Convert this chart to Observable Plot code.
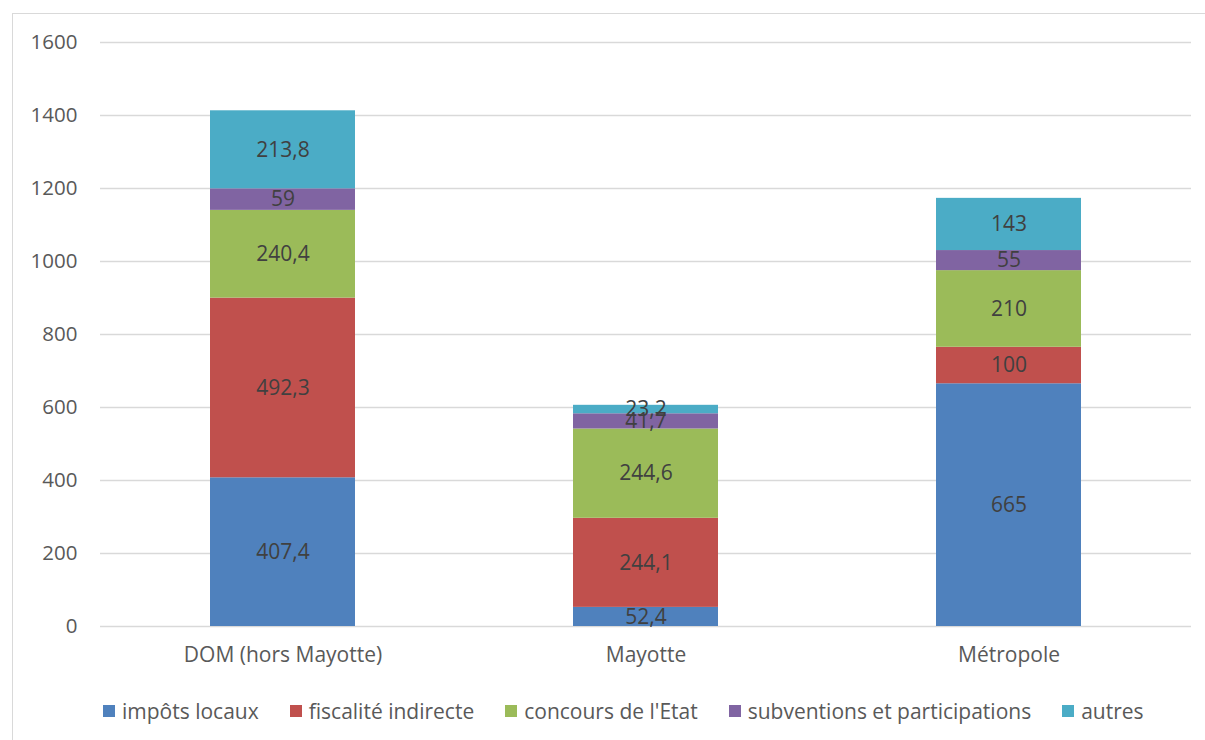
<!DOCTYPE html>
<html>
<head>
<meta charset="utf-8">
<script src="https://cdn.jsdelivr.net/npm/d3@7"></script>
<script src="https://cdn.jsdelivr.net/npm/@observablehq/plot@0.6"></script>
<style>
  body { margin: 0; background: #fff; font-family: "Open Sans", Lato, sans-serif; }
  #frame { position: absolute; left: 12px; top: 13px; width: 1210px; height: 740px; border: 1px solid #d9d9d9; box-sizing: border-box; }
  #chart { position: absolute; left: 0; top: 0; }
  #legend { position: absolute; left: 103px; top: 697px; display: flex; align-items: center; font-size: 21px; color: #595959; white-space: nowrap; }
  .item { display: flex; align-items: center; margin-right: 31px; }
  .sw { width: 12px; height: 12px; margin-right: 7px; display: inline-block; }
</style>
</head>
<body>
<div id="frame"></div>
<div id="chart"></div>
<div id="legend"></div>
<script>
const categories = ["DOM (hors Mayotte)", "Mayotte", "Métropole"];
const series = ["impôts locaux", "fiscalité indirecte", "concours de l'Etat", "subventions et participations", "autres"];
const colors = ["#4F81BD", "#C0504D", "#9BBB59", "#8064A2", "#4BACC6"];
const domValues = [407.4, 492.3, 240.4, 59, 213.8];
const mayotteValues = [52.4, 244.1, 244.6, 41.7, 23.2];
const metropoleValues = [665, 100, 210, 55, 143];
const yTicks = [0, 200, 400, 600, 800, 1000, 1200, 1400, 1600];

const valuesByCat = [domValues, mayotteValues, metropoleValues];
const data = [];
categories.forEach((c, i) => series.forEach((s, j) => data.push({cat: c, series: s, value: valuesByCat[i][j]})));
const fmt = v => String(v).replace(".", ",");

const FS = 21;
const W = 1205, H = 680;
const chart = Plot.plot({
  width: W, height: H,
  marginLeft: 100, marginRight: 14, marginTop: 42, marginBottom: H - 626,
  style: {fontFamily: "'Open Sans', Lato, sans-serif", fontSize: FS + "px", color: "#595959", background: "transparent"},
  x: {domain: categories, paddingInner: 0.6, paddingOuter: 0.3, label: null},
  y: {domain: [0, 1600], ticks: yTicks, label: null},
  color: {domain: series, range: colors},
  marks: [
    Plot.ruleY(yTicks, {stroke: "#d9d9d9", strokeWidth: 1.5}),
    Plot.barY(data, {x: "cat", y: "value", fill: "series", order: series}),
    Plot.text(data, Plot.stackY({x: "cat", y: "value", z: "series", order: series, text: d => fmt(d.value), fill: "#404040", fontSize: FS})),
    Plot.axisY({ticks: yTicks, tickSize: 0, tickPadding: 23, tickFormat: d => String(d), fill: "#595959", fontSize: 20.5, label: null}),
    Plot.axisX({tickSize: 0, tickPadding: 21, fill: "#595959", fontSize: FS, label: null})
  ]
});
document.getElementById("chart").appendChild(chart);

const legend = document.getElementById("legend");
series.forEach((s, i) => {
  const it = document.createElement("span");
  it.className = "item";
  const sw = document.createElement("span");
  sw.className = "sw";
  sw.style.background = colors[i];
  it.appendChild(sw);
  it.appendChild(document.createTextNode(s));
  legend.appendChild(it);
});
</script>
</body>
</html>
